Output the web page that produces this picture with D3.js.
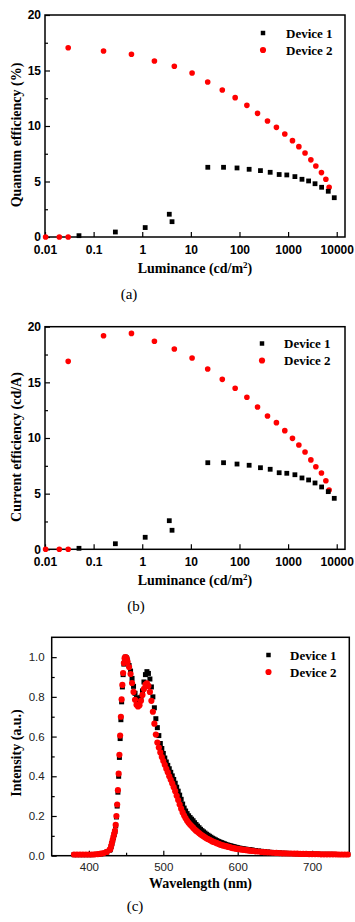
<!DOCTYPE html>
<html>
<head>
<meta charset="utf-8">
<script src="https://cdnjs.cloudflare.com/ajax/libs/d3/7.8.5/d3.min.js"></script>
<style>
body { margin: 0; background: #fff; }
svg { display: block; }
.tk text { font-family: "Liberation Sans", Arial, sans-serif; font-size: 11.5px; fill: #000; }
.tk.bold text { font-weight: bold; font-size: 12px; }
.tk.light text { fill: #222; }
.tk line { stroke: #000; stroke-width: 1.2; }
.ttl { font-family: "Liberation Serif", "Times New Roman", serif; font-weight: bold; font-size: 14px; fill: #000; }
.leg { font-family: "Liberation Serif", "Times New Roman", serif; font-weight: bold; font-size: 13px; fill: #000; }
.lbl { font-family: "Liberation Serif", "Times New Roman", serif; font-size: 15px; fill: #000; }
</style>
</head>
<body>
<svg id="chart" width="355" height="922"></svg>
<script>
// ---- (a) & (b): efficiency vs luminance ----
var lumDev1 = [0.05, 0.28, 1.15, 3.6, 4.1, 22.3, 47, 89, 158, 270, 428, 655, 940, 1380, 1930, 2640, 3580, 4890, 6700, 8900];
var eqeDev1 = [0.12, 0.45, 0.85, 2.05, 1.38, 6.28, 6.28, 6.22, 6.1, 5.98, 5.83, 5.63, 5.59, 5.44, 5.2, 5.05, 4.8, 4.48, 4.12, 3.54];
var ceDev1  = [0.09, 0.5, 1.08, 2.57, 1.71, 7.78, 7.78, 7.66, 7.55, 7.33, 7.19, 6.88, 6.83, 6.7, 6.41, 6.23, 5.96, 5.6, 5.18, 4.58];

var lumDev2 = [0.0103, 0.0197, 0.03, 0.03, 0.16, 0.6, 1.78, 4.57, 10.6, 22.2, 44.3, 81.5, 142, 235, 377, 575, 855, 1230, 1665, 2230, 2940, 3720, 4850, 5980, 6980];
var eqeDev2 = [0, 0, 0, 17.05, 16.76, 16.46, 15.86, 15.38, 14.77, 13.96, 13.24, 12.55, 11.86, 11.14, 10.45, 9.88, 9.28, 8.68, 8.14, 7.57, 6.95, 6.4, 5.8, 5.2, 4.48];
var ceDev2  = [0, 0, 0, 16.89, 19.19, 19.4, 18.69, 18.0, 17.19, 16.2, 15.27, 14.47, 13.66, 12.79, 11.98, 11.38, 10.66, 9.97, 9.37, 8.74, 8.03, 7.42, 6.86, 6.16, 5.33];

var lumTicks = [0.01, 0.1, 1, 10, 100, 1000, 10000];
var lumTickLabels = ["0.01", "0.1", "1", "10", "100", "1000", "10000"];
var effTicks = [0, 5, 10, 15, 20];
var effMinor = [2.5, 7.5, 12.5, 17.5];

// ---- (c): EL spectra ----
var wavelength = [380, 384, 388, 392, 396, 400, 404, 408, 412, 416, 420, 424, 428,
  429, 430, 431, 432, 433, 434, 435, 436, 437, 438, 439, 440, 441, 442, 443, 444, 445, 446, 447, 448, 449, 450, 451, 452,
  454, 456, 458, 460, 462, 464, 466, 468, 470, 472, 474, 476, 478, 480, 482, 484, 486, 488, 490, 492, 494, 496, 498, 500,
  502, 504, 506, 508, 510, 512, 514, 516, 518, 520, 522, 524, 526, 528, 530, 532, 534, 536, 538, 540, 542, 544, 546, 548, 550,
  552, 554, 556, 558, 560, 562, 564, 566, 568, 570, 572, 574, 576, 578, 580, 582, 584, 586, 588, 590, 592, 594, 596, 598, 600,
  602, 604, 606, 608, 610, 612, 614, 616, 618, 620,
  624, 628, 632, 636, 640, 644, 648, 652, 656, 660, 664, 668, 672, 676, 680, 684, 688, 692, 696, 700, 704, 708, 712, 716, 720,
  724, 728, 732, 736, 740, 744, 748];
var elDev1 = [0.005, 0.005, 0.005, 0.005, 0.005, 0.005, 0.005, 0.006, 0.007, 0.009, 0.012, 0.018, 0.028,
  0.033, 0.047, 0.062, 0.077, 0.092, 0.107, 0.122, 0.15, 0.195, 0.25, 0.32, 0.4, 0.495, 0.59, 0.685, 0.775, 0.85, 0.912, 0.965, 0.992, 1.0, 0.998, 0.992, 0.98,
  0.958, 0.93, 0.893, 0.853, 0.818, 0.795, 0.782, 0.783, 0.798, 0.83, 0.875, 0.912, 0.927, 0.918, 0.89, 0.85, 0.8, 0.745, 0.69, 0.645, 0.605, 0.565, 0.54, 0.515,
  0.492, 0.472, 0.455, 0.438, 0.42, 0.402, 0.384, 0.365, 0.345, 0.325, 0.305, 0.284, 0.26, 0.24, 0.225, 0.212, 0.201, 0.192, 0.184, 0.176, 0.166, 0.157, 0.149, 0.141, 0.133,
  0.126, 0.12, 0.114, 0.108, 0.103, 0.098, 0.093, 0.088, 0.084, 0.08, 0.076, 0.072, 0.069, 0.066, 0.063, 0.06, 0.057, 0.054, 0.052, 0.05, 0.048, 0.046, 0.044, 0.042, 0.04,
  0.038, 0.037, 0.035, 0.034, 0.033, 0.032, 0.031, 0.03, 0.029, 0.028,
  0.026, 0.024, 0.022, 0.02, 0.019, 0.017, 0.016, 0.015, 0.014, 0.013, 0.012, 0.012, 0.011, 0.011, 0.01, 0.01, 0.009, 0.009, 0.009, 0.008, 0.008, 0.008, 0.007, 0.007, 0.007,
  0.007, 0.007, 0.006, 0.006, 0.006, 0.006, 0.006];
var elDev2 = [0.006, 0.006, 0.006, 0.006, 0.006, 0.006, 0.006, 0.007, 0.008, 0.01, 0.013, 0.019, 0.03,
  0.035, 0.05, 0.065, 0.08, 0.095, 0.11, 0.125, 0.155, 0.2, 0.258, 0.33, 0.413, 0.508, 0.605, 0.7, 0.787, 0.86, 0.92, 0.97, 0.995, 1.0, 0.998, 0.99, 0.975,
  0.95, 0.915, 0.87, 0.825, 0.785, 0.76, 0.752, 0.758, 0.78, 0.81, 0.84, 0.862, 0.868, 0.855, 0.825, 0.78, 0.725, 0.665, 0.61, 0.57, 0.545, 0.52, 0.497, 0.477,
  0.458, 0.438, 0.42, 0.4, 0.382, 0.364, 0.345, 0.325, 0.302, 0.28, 0.258, 0.237, 0.218, 0.202, 0.188, 0.176, 0.166, 0.157, 0.149, 0.141, 0.133, 0.126, 0.12, 0.114, 0.108,
  0.103, 0.098, 0.093, 0.088, 0.084, 0.08, 0.076, 0.072, 0.069, 0.066, 0.063, 0.06, 0.057, 0.054, 0.052, 0.05, 0.048, 0.046, 0.044, 0.042, 0.04, 0.038, 0.037, 0.035, 0.034,
  0.033, 0.032, 0.031, 0.03, 0.029, 0.028, 0.027, 0.026, 0.025, 0.024,
  0.022, 0.021, 0.019, 0.018, 0.017, 0.016, 0.015, 0.014, 0.013, 0.012, 0.012, 0.011, 0.011, 0.01, 0.01, 0.009, 0.009, 0.009, 0.008, 0.008, 0.008, 0.008, 0.007, 0.007, 0.007,
  0.007, 0.007, 0.007, 0.006, 0.006, 0.006, 0.006];

var wlTicks = [400, 500, 600, 700];
var wlMinor = [450, 550, 650];
var intTicks = [0, 0.2, 0.4, 0.6, 0.8, 1.0];
var intTickLabels = ["0.0", "0.2", "0.4", "0.6", "0.8", "1.0"];
var intMinor = [0.1, 0.3, 0.5, 0.7, 0.9];

var legendNames = ["Device 1", "Device 2"];
var devColors = ["#000", "#f00"];

var svg = d3.select("#chart");
svg.append("rect").attr("width", 355).attr("height", 922).attr("fill", "#fff");

var sq = d3.symbol().type(d3.symbolSquare).size(23);
var dot = d3.symbol().type(d3.symbolCircle).size(25);

function zip(xs, ys) {
  return xs.map(function(v, i) { return [v, ys[i]]; });
}

function axes(g, x, y, o) {
  var ax = g.append("g").attr("class", "tk " + o.cls)
    .attr("transform", "translate(0," + o.bottom + ")")
    .call(d3.axisBottom(x).tickValues(o.xt).tickFormat(function(d, i) { return o.xl[i]; })
      .tickSize(-5).tickPadding(o.xpad));
  ax.select(".domain").remove();
  if (o.xm) {
    var axm = g.append("g").attr("class", "tk").attr("transform", "translate(0," + o.bottom + ")")
      .call(d3.axisBottom(x).tickValues(o.xm).tickFormat("").tickSize(-3));
    axm.select(".domain").remove();
  }
  var ay = g.append("g").attr("class", "tk " + o.cls)
    .attr("transform", "translate(" + o.left + ",0)")
    .call(d3.axisLeft(y).tickValues(o.yt).tickFormat(function(d, i) { return o.yl[i]; })
      .tickSize(-5).tickPadding(o.ypad));
  ay.select(".domain").remove();
  var aym = g.append("g").attr("class", "tk").attr("transform", "translate(" + o.left + ",0)")
    .call(d3.axisLeft(y).tickValues(o.ym).tickFormat("").tickSize(-3));
  aym.select(".domain").remove();

  g.append("rect")
    .attr("x", o.left).attr("y", o.top)
    .attr("width", o.right - o.left).attr("height", o.bottom - o.top)
    .attr("fill", "none").attr("stroke", "#000").attr("stroke-width", 1.5);
}

function legend(g, lx, ly, tx) {
  legendNames.forEach(function(name, i) {
    g.append("path")
      .attr("d", i == 0 ? d3.symbol().type(d3.symbolSquare).size(20)() : d3.symbol().type(d3.symbolCircle).size(30)())
      .attr("transform", "translate(" + lx + "," + (ly + i * 17) + ")")
      .attr("fill", devColors[i]);
    g.append("text").attr("class", "leg")
      .attr("x", tx).attr("y", ly + i * 17).attr("dy", "0.35em")
      .text(name);
  });
}

function lumTitle(g, cx, y) {
  var t = g.append("text").attr("class", "ttl").attr("x", cx).attr("y", y).attr("text-anchor", "middle");
  t.append("tspan").text("Luminance (cd/m");
  t.append("tspan").attr("dy", -5).style("font-size", "9px").text("2");
  t.append("tspan").attr("dy", 5).text(")");
}

function lumPanel(o) {
  var g = svg.append("g");
  var x = d3.scaleLog().domain([0.01, 14800]).range([45, 345]);
  var y = d3.scaleLinear().domain([0, 20]).range([o.bottom, o.top]);

  axes(g, x, y, {
    cls: "bold", left: 45, right: 345, top: o.top, bottom: o.bottom,
    xt: lumTicks, xl: lumTickLabels, xpad: 8,
    yt: effTicks, yl: effTicks.map(String), ym: effMinor, ypad: 4
  });

  // device 2 (circles) then device 1 (squares)
  g.selectAll(".d2").data(zip(lumDev2, o.dev2)).enter().append("path")
    .attr("d", dot)
    .attr("transform", function(d) { return "translate(" + x(d[0]) + "," + y(d[1]) + ")"; })
    .attr("fill", devColors[1]);
  g.selectAll(".d1").data(zip(lumDev1, o.dev1)).enter().append("path")
    .attr("d", sq)
    .attr("transform", function(d) { return "translate(" + x(d[0]) + "," + y(d[1]) + ")"; })
    .attr("fill", devColors[0]);

  legend(g, o.legX, o.legY, o.legTx);
  lumTitle(g, 195, o.bottom + 36);

  g.append("text").attr("class", "ttl").attr("text-anchor", "middle")
    .attr("transform", "translate(16," + o.ytitleY + ") rotate(-90)").attr("dy", "0.35em")
    .text(o.ytitle);
  g.append("text").attr("class", "lbl").attr("text-anchor", "middle")
    .attr("x", o.tagX).attr("y", o.bottom + 62).text(o.tag);
}

lumPanel({ top: 15, bottom: 237, dev1: eqeDev1, dev2: eqeDev2,
  ytitle: "Quantum efficiency (%)", ytitleY: 135, tag: "(a)", tagX: 129,
  legX: 263, legY: 33, legTx: 286 });
lumPanel({ top: 326.7, bottom: 549.3, dev1: ceDev1, dev2: ceDev2,
  ytitle: "Current efficiency (cd/A)", ytitleY: 447, tag: "(b)", tagX: 136,
  legX: 262, legY: 343.5, legTx: 284 });

// ---- panel (c) ----
(function() {
  var g = svg.append("g");
  var top = 637.3, bottom = 855.7, left = 51.7, right = 349.3;
  var x = d3.scaleLinear().domain([350, 750]).range([left, right]);
  var y = d3.scaleLinear().domain([0, 1.1]).range([bottom, top]);

  axes(g, x, y, {
    cls: "light", left: left, right: right, top: top, bottom: bottom,
    xt: wlTicks, xl: wlTicks.map(String), xm: wlMinor, xpad: 7,
    yt: intTicks, yl: intTickLabels, ym: intMinor, ypad: 7
  });

  var sqc = d3.symbol().type(d3.symbolSquare).size(25);
  var dotc = d3.symbol().type(d3.symbolCircle).size(30);
  g.selectAll(".s1").data(zip(wavelength, elDev1)).enter().append("path")
    .attr("d", sqc)
    .attr("transform", function(d) { return "translate(" + x(d[0]) + "," + y(d[1]) + ")"; })
    .attr("fill", devColors[0]);
  g.selectAll(".s2").data(zip(wavelength, elDev2)).enter().append("path")
    .attr("d", dotc)
    .attr("transform", function(d) { return "translate(" + x(d[0]) + "," + y(d[1]) + ")"; })
    .attr("fill", devColors[1]);

  legend(g, 268.5, 655, 290);

  g.append("text").attr("class", "ttl").attr("text-anchor", "middle")
    .attr("x", (left + right) / 2).attr("y", 888).text("Wavelength (nm)");
  g.append("text").attr("class", "ttl").attr("text-anchor", "middle")
    .attr("transform", "translate(16,753) rotate(-90)").attr("dy", "0.35em")
    .text("Intensity (a.u.)");
  g.append("text").attr("class", "lbl").attr("text-anchor", "middle")
    .attr("x", 135).attr("y", 911).text("(c)");
})();
</script>
</body>
</html>
